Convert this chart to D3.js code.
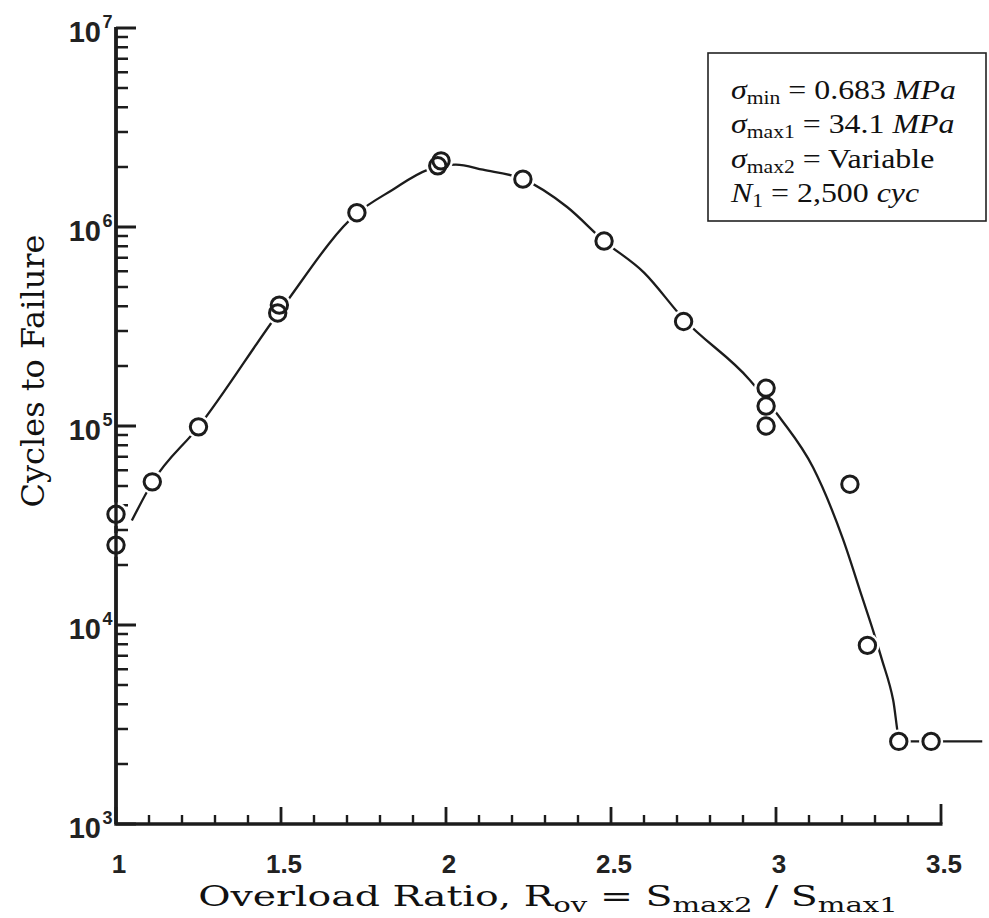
<!DOCTYPE html>
<html><head><meta charset="utf-8">
<script src="https://cdn.jsdelivr.net/npm/d3@7"></script>
<style>body{margin:0;background:#fff}</style>
</head><body>
<svg id="chart" width="989" height="918" xmlns="http://www.w3.org/2000/svg"></svg>
<script>
// ---- data ----
const xTickValues = [1, 1.5, 2, 2.5, 3, 3.5];
const xTickLabels = ["1", "1.5", "2", "2.5", "3", "3.5"];
const yExponents = [3, 4, 5, 6, 7];

// measured points (overload ratio, cycles to failure)
const pointRatio  = [1.0,   1.0,   1.11,  1.25,  1.49,   1.495,  1.73,    1.975,   1.985,   2.233,   2.479,  2.72,   2.97,   2.97,   2.97,   3.224, 3.277, 3.372, 3.47];
const pointCycles = [36000, 25200, 52400, 99000, 370000, 405000, 1180000, 2030000, 2150000, 1740000, 850000, 335000, 155000, 126000, 100000, 51000, 7900,  2600,  2600];

// fitted curve
const curveRatio  = [1.048, 1.11,  1.25,  1.5,    1.73,    1.836,   1.942,   2.03,    2.112,   2.233,   2.367,   2.479,  2.6,    2.72,   2.921,  3.012,  3.112, 3.203, 3.261, 3.294, 3.321, 3.355, 3.376, 3.47, 3.625];
const curveCycles = [33500, 52000, 99000, 385000, 1170000, 1530000, 1930000, 2060000, 1940000, 1740000, 1260000, 850000, 590000, 345000, 170000, 110000, 62000, 27000, 13800, 9400,  6700,  4200,  2600,  2600, 2600];

const legendLines = [
  [["σ", "i"], ["min", "sub"], [" = 0.683 ", ""], ["MPa", "i"]],
  [["σ", "i"], ["max1", "sub"], [" = 34.1 ", ""], ["MPa", "i"]],
  [["σ", "i"], ["max2", "sub"], [" = Variable", ""]],
  [["N", "i"], ["1", "sub"], [" = 2,500 ", ""], ["cyc", "i"]]
];

const xTitleParts = [["Overload Ratio, R", ""], ["ov", "sub"], [" = S", ""], ["max2", "sub"], [" / S", ""], ["max1", "sub"]];
const yTitle = "Cycles to Failure";

// ---- layout ----
const svg = d3.select("#chart");
const x = d3.scaleLinear().domain([1, 3.5]).range([116, 941]);
const y = d3.scaleLog().domain([1e3, 1e7]).range([824, 28]);
const x0 = x(1), yBase = y(1e3);
const ink = "#1c1c1c";

// y ticks (inward / right)
const yMinor = [];
for (let e = 3; e < 7; e++) for (let k = 2; k <= 9; k++) yMinor.push(k * Math.pow(10, e));
const yMajor = yExponents.map(e => Math.pow(10, e));
svg.append("path")
  .attr("d", yMinor.map(v => `M${x0},${y(v).toFixed(2)}H${x0 + 12}`).join(""))
  .attr("fill", "none").attr("stroke", ink).attr("stroke-width", 2.5);
svg.append("path")
  .attr("d", yMajor.map(v => `M${x0},${y(v).toFixed(2)}H${x0 + 20}`).join(""))
  .attr("fill", "none").attr("stroke", ink).attr("stroke-width", 2.8);

// x ticks (inward / upward)
const xAll = d3.range(10, 36).map(d => d / 10);
const isMajorX = d => Math.round(d * 10) % 5 === 0;
svg.append("path")
  .attr("d", xAll.filter(d => !isMajorX(d)).map(d => `M${x(d).toFixed(2)},${yBase}V${yBase - 9}`).join(""))
  .attr("fill", "none").attr("stroke", ink).attr("stroke-width", 2.4);
svg.append("path")
  .attr("d", xAll.filter(isMajorX).map(d => `M${x(d).toFixed(2)},${yBase}V${yBase - (d === 3.5 ? 20 : 17)}`).join(""))
  .attr("fill", "none").attr("stroke", ink).attr("stroke-width", 2.8);

// axis lines
svg.append("path")
  .attr("d", `M${x0},${y(1e7) - 1}V${yBase}H${x(3.5) + 1.5}`)
  .attr("fill", "none").attr("stroke", ink).attr("stroke-width", 3.4);

// x tick labels
svg.append("g").selectAll("text").data(xTickValues).join("text")
  .attr("x", d => x(d) + 3).attr("y", 873)
  .attr("text-anchor", "middle")
  .attr("font-family", "Liberation Sans, Arial, sans-serif").attr("font-weight", "bold")
  .attr("font-size", 26).attr("fill", "#222")
  .text((d, i) => xTickLabels[i]);

// y tick labels 10^n
const yl = svg.append("g").selectAll("g").data(yExponents).join("g")
  .attr("transform", e => `translate(101,${y(Math.pow(10, e))})`);
yl.append("text").attr("x", 0).attr("y", 14).attr("text-anchor", "end")
  .attr("font-family", "Liberation Sans, Arial, sans-serif").attr("font-weight", "bold")
  .attr("font-size", 29).attr("fill", "#222").text("10");
yl.append("text").attr("x", 1.5).attr("y", 0)
  .attr("font-family", "Liberation Sans, Arial, sans-serif").attr("font-weight", "bold")
  .attr("font-size", 18).attr("fill", "#222").text(e => e);

// curve
const lineGen = d3.line().x(d => x(d[0])).y(d => y(d[1])).curve(d3.curveMonotoneX);
svg.append("path").datum(curveRatio.map((r, i) => [r, curveCycles[i]]))
  .attr("d", lineGen).attr("fill", "none").attr("stroke", ink).attr("stroke-width", 2.3);

// points: halos then circles
const pts = pointRatio.map((r, i) => [r, pointCycles[i]]);
svg.append("g").selectAll("circle").data(pts).join("circle")
  .attr("cx", d => x(d[0])).attr("cy", d => y(d[1])).attr("r", 12).attr("fill", "#fff");
svg.append("g").selectAll("circle").data(pts).join("circle")
  .attr("cx", d => x(d[0])).attr("cy", d => y(d[1])).attr("r", 8.2)
  .attr("fill", "none").attr("stroke", ink).attr("stroke-width", 3);

// redraw the axis segment that the halos at ratio 1 cover
svg.append("path")
  .attr("d", `M${x0},${y(1e7) - 1}V${yBase}`)
  .attr("fill", "none").attr("stroke", ink).attr("stroke-width", 3.4);

// legend
svg.append("rect").attr("x", 708).attr("y", 53).attr("width", 278).attr("height", 168)
  .attr("fill", "#fff").attr("stroke", "#222").attr("stroke-width", 1.6);
const lg = svg.append("g");
const lt = lg.selectAll("text").data(legendLines).join("text")
  .attr("x", 0).attr("y", (d, i) => 99 + i * 34.5)
  .attr("font-family", "Liberation Serif, Times New Roman, serif").attr("font-size", 28).attr("fill", "#111");
lt.each(function (parts) {
  const t = d3.select(this);
  let sh = 0;
  parts.forEach(([s, k]) => {
    const sp = t.append("tspan").text(s);
    if (k === "i") sp.attr("font-style", "italic");
    if (k === "sub") { sp.attr("font-size", 19).attr("dy", 5 - sh); sh = 5; }
    else { sp.attr("dy", -sh); sh = 0; }
  });
});
const lw = lt.nodes()[0].getBBox().width;
lg.attr("transform", `translate(731,0) scale(${225 / lw},1)`);

// x title
const xt = svg.append("text").attr("text-anchor", "middle")
  .attr("font-family", "DejaVu Serif, serif").attr("font-size", 27).attr("fill", "#111");
let sh = 0;
xTitleParts.forEach(([s, k]) => {
  const sp = xt.append("tspan").text(s);
  if (k === "sub") { sp.attr("font-size", 20).attr("dy", 6 - sh); sh = 6; }
  else { sp.attr("dy", -sh); sh = 0; }
});
const xw = xt.node().getBBox().width;
xt.attr("transform", `translate(548,906) scale(${700 / xw},1)`);

// y title
svg.append("text").attr("transform", "translate(44,371) rotate(-90)")
  .attr("text-anchor", "middle")
  .attr("font-family", "DejaVu Serif, serif").attr("font-size", 32).attr("fill", "#111")
  .text(yTitle);
</script>
</body></html>
